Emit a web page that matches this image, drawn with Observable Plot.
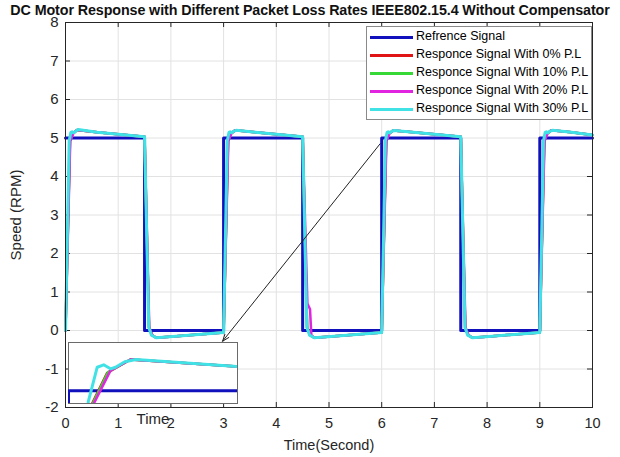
<!DOCTYPE html>
<html><head><meta charset="utf-8">
<script src="https://cdn.jsdelivr.net/npm/d3@7"></script>
<script src="https://cdn.jsdelivr.net/npm/@observablehq/plot@0.6"></script>
<style>
body{margin:0;background:#fff;}
#wrap{position:relative;width:620px;height:457px;font-family:"Liberation Sans",Arial,sans-serif;overflow:hidden;}
#title{position:absolute;left:0;top:2px;width:620px;text-align:center;font-weight:bold;font-size:14.3px;letter-spacing:-0.1px;color:#111;white-space:nowrap;z-index:3;}
#inset{position:absolute;left:67px;top:341px;z-index:2;}
#legend{position:absolute;left:366px;top:26px;width:226px;height:94px;border:1px solid #8a8a8a;background:#fff;box-sizing:border-box;z-index:2;}
.row{position:absolute;left:0;height:18px;width:224px;}
.sw{position:absolute;left:3px;top:8px;width:43px;height:3px;}
.lb{position:absolute;left:49px;top:1px;font-size:12.5px;color:#000;white-space:nowrap;}
</style></head>
<body>
<div id="wrap"><div id="title"></div><div id="main"></div><div id="inset"></div><div id="legend"></div></div>
<script>
const titleText = "DC Motor Response with Different Packet Loss Rates IEEE802.15.4 Without Compensator";
const xLabel = "Time(Second)";
const yLabel = "Speed (RPM)";
const insetLabel = "Time";
const xTicks = [0,1,2,3,4,5,6,7,8,9,10];
const yTicks = [-2,-1,0,1,2,3,4,5,6,7,8];

const seriesNames = ["Refrence Signal","Responce Signal With 0% P.L","Responce Signal With 10% P.L","Responce Signal With 20% P.L","Responce Signal With 30% P.L"];
const seriesColors = ["#1010bc","#e01414","#35d835","#e024e0","#40e2e6"];

// reference square wave (step-after)
const refT = [0,1.5,3,4.5,6,7.5,9,10];
const refV = [5,0,5,0,5,0,5,5];

// 0% packet loss
const p0T = [0,0.084,0.137,0.22,0.6,1.5, 1.584,1.637,1.72,2.1,3.0, 3.084,3.137,3.22,3.6,4.5, 4.584,4.637,4.72,5.1,6.0, 6.084,6.137,6.22,6.6,7.5, 7.584,7.637,7.72,8.1,9.0, 9.084,9.137,9.22,9.6,10];
const p0V = [0,4.92,5.11,5.21,5.15,5.03, 0.08,-0.11,-0.19,-0.15,-0.05, 4.92,5.11,5.2,5.15,5.03, 0.08,-0.11,-0.19,-0.15,-0.05, 4.92,5.11,5.194,5.15,5.03, 0.08,-0.11,-0.19,-0.15,-0.05, 4.92,5.11,5.2,5.15,5.08];
// 10% packet loss
const p10T = [0,0.086,0.14,0.22,0.6,1.5, 1.586,1.64,1.72,2.1,3.0, 3.086,3.14,3.22,3.6,4.5, 4.586,4.64,4.72,5.1,6.0, 6.086,6.14,6.22,6.6,7.5, 7.586,7.64,7.72,8.1,9.0, 9.086,9.14,9.22,9.6,10];
const p10V = [0,4.92,5.115,5.21,5.15,5.03, 0.08,-0.115,-0.19,-0.15,-0.05, 4.92,5.115,5.2,5.15,5.03, 0.08,-0.115,-0.19,-0.15,-0.05, 4.92,5.115,5.194,5.15,5.03, 0.08,-0.115,-0.19,-0.15,-0.05, 4.92,5.115,5.2,5.15,5.08];
// 20% packet loss
const p20T = [0,0.09,0.149,0.22,0.6,1.5, 1.59,1.649,1.72,2.1,3.0, 3.09,3.149,3.22,3.6,4.5, 4.59,4.64,4.665,4.72,5.1,6.0, 6.09,6.149,6.22,6.6,7.5, 7.59,7.649,7.72,8.1,9.0, 9.09,9.149,9.22,9.6,10];
const p20V = [0,4.92,5.125,5.21,5.15,5.03, 0.08,-0.125,-0.19,-0.15,-0.05, 4.92,5.125,5.2,5.15,5.03, 0.7,0.55,-0.12,-0.19,-0.15,-0.05, 4.92,5.125,5.194,5.15,5.03, 0.08,-0.125,-0.19,-0.15,-0.05, 4.92,5.125,5.2,5.15,5.08];
// 30% packet loss
const p30T = [0,0.07,0.102,0.125,0.149,0.167,0.2,0.24,0.6,1.5, 1.58,1.63,1.72,2.1,3.0, 3.07,3.102,3.125,3.149,3.167,3.2,3.24,3.6,4.5, 4.58,4.63,4.72,5.1,6.0, 6.07,6.102,6.125,6.149,6.167,6.2,6.24,6.6,7.5, 7.58,7.63,7.72,8.1,9.0, 9.07,9.102,9.125,9.149,9.167,9.2,9.24,9.6,10];
const p30V = [0,4.93,5.146,5.161,5.136,5.146,5.18,5.22,5.15,5.03, 0.08,-0.12,-0.19,-0.15,-0.05, 4.93,5.146,5.161,5.136,5.146,5.18,5.2,5.15,5.03, 0.08,-0.12,-0.19,-0.15,-0.05, 4.93,5.146,5.161,5.136,5.146,5.18,5.194,5.15,5.03, 0.08,-0.12,-0.19,-0.15,-0.05, 4.93,5.146,5.161,5.136,5.146,5.18,5.2,5.15,5.08];

// zoom arrow (data coordinates)
const arrowX = [5.97, 2.98];
const arrowY = [4.85, -0.28];
// inset window
const insetX = [6.0, 6.6];
const insetY = [4.92, 5.30];

const toRows = (T, V, k) => T.map((t, i) => ({t, v: V[i], k}));
const ref = toRows(refT, refV, 0);
const responses = [toRows(p0T,p0V,1), toRows(p10T,p10V,2), toRows(p20T,p20V,3), toRows(p30T,p30V,4)];

document.getElementById("title").textContent = titleText;

const W = 620, H = 457, mt = 22, mb = 50, ml = 65, mr = 28;
const fw = W - ml - mr, fh = H - mt - mb;
const axisColor = "#262626";

const lineMarks = (opts) => [
  Plot.line(ref, {x:"t", y:"v", curve:"step-after", stroke: seriesColors[0], strokeWidth: 3, ...opts}),
  ...responses.map((r, i) => Plot.line(r, {x:"t", y:"v", stroke: seriesColors[i+1], strokeWidth: i === 3 ? 3 : 2.5, ...opts}))
];

const main = Plot.plot({
  width: W, height: H, marginTop: mt, marginBottom: mb, marginLeft: ml, marginRight: mr,
  style: {fontFamily: "Liberation Sans, Arial, sans-serif", fontSize: "14.5px", color: axisColor, background: "white"},
  x: {domain: [0, 10]},
  y: {domain: [-2, 8]},
  marks: [
    Plot.gridX(xTicks, {stroke: "#e2e2e2", strokeOpacity: 1}),
    Plot.gridY(yTicks, {stroke: "#e2e2e2", strokeOpacity: 1}),
    Plot.axisX(xTicks, {tickSize: 0, tickPadding: 10, tickFormat: d => String(d), label: xLabel, labelAnchor: "center", labelOffset: 42, labelArrow: "none", fontSize: 14.5}),
    Plot.axisY(yTicks, {tickSize: 0, tickPadding: 7, tickFormat: d => String(d), label: yLabel, labelAnchor: "center", labelOffset: 55, labelArrow: "none", fontSize: 15}),
    Plot.tickX(xTicks, {x: d => d, insetTop: fh - 5, stroke: axisColor}),
    Plot.tickX(xTicks, {x: d => d, insetBottom: fh - 5, stroke: axisColor}),
    Plot.tickY(yTicks, {y: d => d, insetRight: fw - 5, stroke: axisColor}),
    Plot.tickY(yTicks, {y: d => d, insetLeft: fw - 5, stroke: axisColor}),
    ...lineMarks({}),
    Plot.arrow([0], {x1: () => arrowX[0], y1: () => arrowY[0], x2: () => arrowX[1], y2: () => arrowY[1], stroke: "#222", strokeWidth: 1, headLength: 11, headAngle: 40}),
    Plot.frame({stroke: axisColor, strokeWidth: 1})
  ]
});
document.getElementById("main").appendChild(main);

const inset = Plot.plot({
  width: 171, height: 95, marginTop: 1, marginLeft: 1, marginRight: 1, marginBottom: 33,
  style: {fontFamily: "Liberation Sans, Arial, sans-serif", fontSize: "15px", color: axisColor, background: "transparent", overflow: "visible"},
  x: {domain: insetX, axis: null},
  y: {domain: insetY, axis: null},
  marks: [
    Plot.frame({fill: "white", stroke: "#6a6a6a"}),
    ...lineMarks({clip: true}),
    Plot.text([insetLabel], {frameAnchor: "bottom", dy: 20, fontSize: 15, fill: axisColor})
  ]
});
document.getElementById("inset").appendChild(inset);

const legend = document.getElementById("legend");
seriesNames.forEach((name, i) => {
  const row = document.createElement("div");
  row.className = "row";
  row.style.top = (1 + i * 18) + "px";
  const sw = document.createElement("div");
  sw.className = "sw";
  sw.style.background = seriesColors[i];
  const lb = document.createElement("div");
  lb.className = "lb";
  lb.textContent = name;
  row.appendChild(sw); row.appendChild(lb);
  legend.appendChild(row);
});
</script>
</body></html>
